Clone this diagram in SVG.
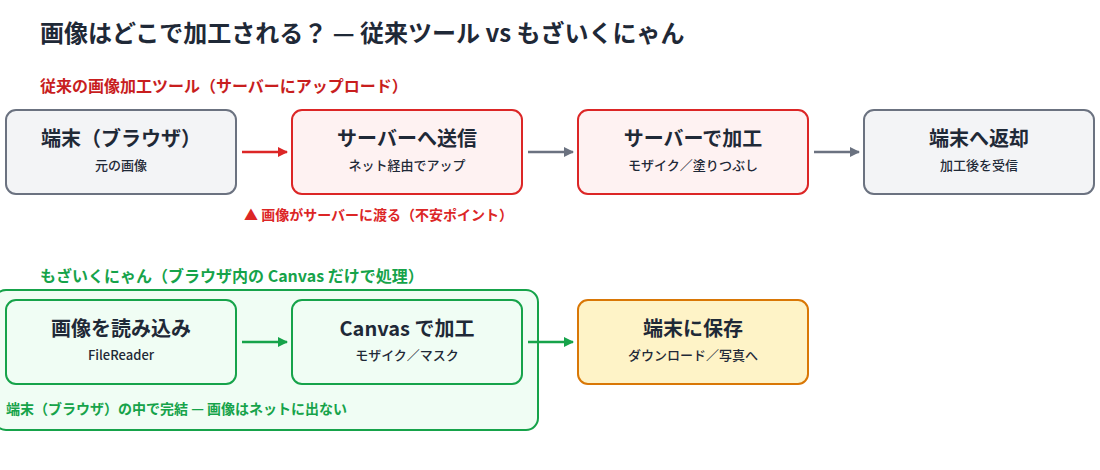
<svg xmlns="http://www.w3.org/2000/svg" width="1100" height="470" viewBox="0 0 1100 470">
<style>
text{font-family:"Noto Sans CJK JP","Noto Sans",sans-serif;}
.title{font-size:24px;font-weight:700;fill:#1f2937;}
.sec{font-size:16px;font-weight:700;}
.bt{font-size:20px;font-weight:700;fill:#1f2937;text-anchor:middle;}
.bs{font-size:13px;font-weight:500;fill:#1f2937;text-anchor:middle;}
.gray{fill:#f3f4f6;stroke:#6b7280;stroke-width:2;}
.red{fill:#fef2f2;stroke:#dc2626;stroke-width:2;}
.green{fill:#f0fdf4;stroke:#16a34a;stroke-width:2;}
.orange{fill:#fef3c7;stroke:#d97706;stroke-width:2;}
.conn{fill:none;stroke-width:2.5;}
</style>
<defs>
<marker id="ah-red" viewBox="0 0 10 10" refX="9" refY="5" markerWidth="4" markerHeight="4" orient="auto" markerUnits="strokeWidth"><path d="M0,0 L10,5 L0,10 z" fill="#dc2626"/></marker>
<marker id="ah-gray" viewBox="0 0 10 10" refX="9" refY="5" markerWidth="4" markerHeight="4" orient="auto" markerUnits="strokeWidth"><path d="M0,0 L10,5 L0,10 z" fill="#6b7280"/></marker>
<marker id="ah-green" viewBox="0 0 10 10" refX="9" refY="5" markerWidth="4" markerHeight="4" orient="auto" markerUnits="strokeWidth"><path d="M0,0 L10,5 L0,10 z" fill="#16a34a"/></marker>
</defs>
<rect width="1100" height="470" fill="#ffffff"/>
<text class="title" x="40" y="42">画像はどこで加工される？ — 従来ツール vs もざいくにゃん</text>
<text class="sec" x="40" y="92" fill="#c81e1e">従来の画像加工ツール（サーバーにアップロード）</text>

<g id="container-browser">
<rect x="-6" y="290" width="544" height="140" rx="12" fill="#f0fdf4" stroke="#16a34a" stroke-width="2"/>
<text x="6" y="414" font-size="14" font-weight="700" fill="#16a34a">端末（ブラウザ）の中で完結 — 画像はネットに出ない</text>
</g>

<g id="n-device">
<rect class="gray" x="6" y="110" width="230" height="84" rx="10"/>
<text class="bt" x="121" y="146">端末（ブラウザ）</text>
<text class="bs" x="121" y="170">元の画像</text>
</g>
<g id="n-send">
<rect class="red" x="292" y="110" width="230" height="84" rx="10"/>
<text class="bt" x="407" y="146">サーバーへ送信</text>
<text class="bs" x="407" y="170">ネット経由でアップ</text>
</g>
<g id="n-server">
<rect class="red" x="578" y="110" width="230" height="84" rx="10"/>
<text class="bt" x="693" y="146">サーバーで加工</text>
<text class="bs" x="693" y="170">モザイク／塗りつぶし</text>
</g>
<g id="n-return">
<rect class="gray" x="864" y="110" width="230" height="84" rx="10"/>
<text class="bt" x="979" y="146">端末へ返却</text>
<text class="bs" x="979" y="170">加工後を受信</text>
</g>
<text x="244" y="220" font-size="14" font-weight="700" fill="#dc2626">▲ 画像がサーバーに渡る（不安ポイント）</text>

<text class="sec" x="40" y="282" fill="#16a34a">もざいくにゃん（ブラウザ内の Canvas だけで処理）</text>

<g id="n-read">
<rect class="green" x="6" y="300" width="230" height="84" rx="10"/>
<text class="bt" x="121" y="336">画像を読み込み</text>
<text class="bs" x="121" y="360">FileReader</text>
</g>
<g id="n-canvas">
<rect class="green" x="292" y="300" width="230" height="84" rx="10"/>
<text class="bt" x="407" y="336">Canvas で加工</text>
<text class="bs" x="407" y="360">モザイク／マスク</text>
</g>
<g id="n-save">
<rect class="orange" x="578" y="300" width="230" height="84" rx="10"/>
<text class="bt" x="693" y="336">端末に保存</text>
<text class="bs" x="693" y="360">ダウンロード／写真へ</text>
</g>

<g id="connectors">
<line class="conn" x1="242" y1="152" x2="287" y2="152" stroke="#dc2626" marker-end="url(#ah-red)"/>
<line class="conn" x1="528" y1="152" x2="573" y2="152" stroke="#6b7280" stroke-width="2" marker-end="url(#ah-gray)"/>
<line class="conn" x1="814" y1="152" x2="859" y2="152" stroke="#6b7280" stroke-width="2" marker-end="url(#ah-gray)"/>
<line class="conn" x1="242" y1="342" x2="287" y2="342" stroke="#16a34a" marker-end="url(#ah-green)"/>
<line class="conn" x1="528" y1="342" x2="573" y2="342" stroke="#16a34a" marker-end="url(#ah-green)"/>
</g>
</svg>
